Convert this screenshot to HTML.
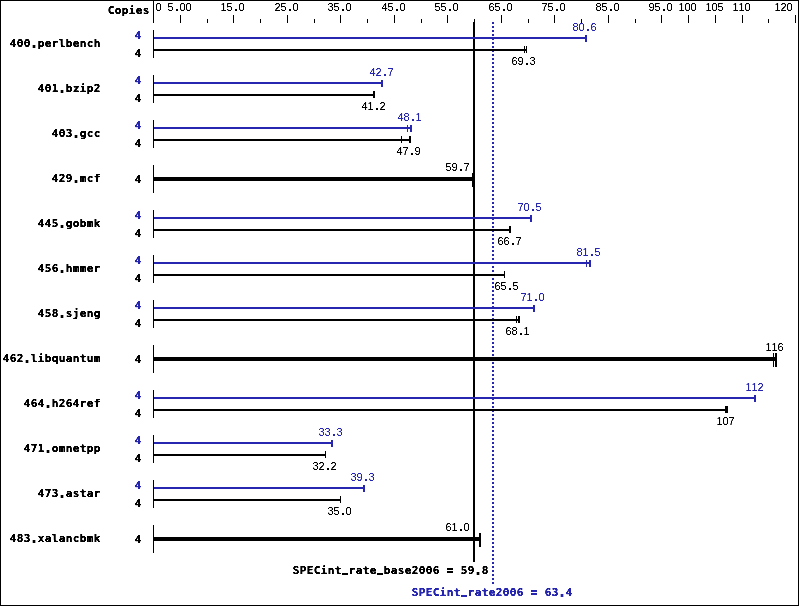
<!DOCTYPE html>
<html lang="en">
<head>
<meta charset="utf-8">
<title>SPECint_rate2006 result graph</title>
<style>
html,body{margin:0;padding:0;background:#fff;}
svg{display:block;}
rect,line{shape-rendering:crispEdges;}
text{fill:#000;stroke:#000;stroke-width:0;white-space:pre;}
text.s{font-family:"Liberation Sans","DejaVu Sans",sans-serif;font-size:11px;}
text.u{fill:#2626b0;stroke:#2626b0;}
tspan.d{font-size:21px;}
text.b.us{font-size:9.5px;}
tspan.bd{font-size:15px;}
text.b{font-family:"DejaVu Sans Mono","Liberation Mono",monospace;font-weight:bold;font-size:11px;stroke-width:0.08px;}
</style>
</head>
<body>
<svg width="799" height="606" viewBox="0 0 799 606">
<rect x="0" y="0" width="799" height="606" fill="#ffffff"/>
<defs>
<filter id="crisp" filterUnits="userSpaceOnUse" x="0" y="0" width="799" height="606" color-interpolation-filters="sRGB">
<feComponentTransfer><feFuncA type="linear" slope="2.5" intercept="-0.4"/></feComponentTransfer>
</filter>
<filter id="crisps" filterUnits="userSpaceOnUse" x="0" y="0" width="799" height="606" color-interpolation-filters="sRGB">
<feComponentTransfer><feFuncA type="linear" slope="2.2" intercept="-0.45"/></feComponentTransfer>
</filter>
</defs>
<rect x="473" y="22" width="2" height="540" fill="#000000"/>
<line x1="493" y1="22" x2="493" y2="584" stroke="#2626b0" stroke-width="2" stroke-dasharray="2 2"/>
<rect x="0" y="0" width="799" height="1" fill="#000000"/>
<rect x="0" y="605" width="799" height="1" fill="#000000"/>
<rect x="0" y="0" width="1" height="606" fill="#000000"/>
<rect x="798" y="0" width="1" height="606" fill="#000000"/>
<rect x="153" y="0" width="1" height="23" fill="#000000"/>
<rect x="180" y="15" width="1" height="8" fill="#000000"/>
<rect x="233" y="15" width="1" height="8" fill="#000000"/>
<rect x="287" y="15" width="1" height="8" fill="#000000"/>
<rect x="340" y="15" width="1" height="8" fill="#000000"/>
<rect x="394" y="15" width="1" height="8" fill="#000000"/>
<rect x="447" y="15" width="1" height="8" fill="#000000"/>
<rect x="501" y="15" width="1" height="8" fill="#000000"/>
<rect x="554" y="15" width="1" height="8" fill="#000000"/>
<rect x="608" y="15" width="1" height="8" fill="#000000"/>
<rect x="661" y="15" width="1" height="8" fill="#000000"/>
<rect x="688" y="15" width="1" height="8" fill="#000000"/>
<rect x="715" y="15" width="1" height="8" fill="#000000"/>
<rect x="742" y="15" width="1" height="8" fill="#000000"/>
<rect x="795" y="15" width="1" height="8" fill="#000000"/>
<rect x="207" y="19" width="1" height="4" fill="#000000"/>
<rect x="260" y="19" width="1" height="4" fill="#000000"/>
<rect x="314" y="19" width="1" height="4" fill="#000000"/>
<rect x="367" y="19" width="1" height="4" fill="#000000"/>
<rect x="421" y="19" width="1" height="4" fill="#000000"/>
<rect x="474" y="19" width="1" height="4" fill="#000000"/>
<rect x="528" y="19" width="1" height="4" fill="#000000"/>
<rect x="581" y="19" width="1" height="4" fill="#000000"/>
<rect x="635" y="19" width="1" height="4" fill="#000000"/>
<rect x="768" y="19" width="1" height="4" fill="#000000"/>
<rect x="153" y="30" width="1" height="28" fill="#000000"/>
<rect x="154" y="37" width="433" height="2" fill="#2626b0"/>
<rect x="585" y="35" width="1" height="7" fill="#2626b0"/>
<rect x="586" y="35" width="1" height="7" fill="#2626b0"/>
<rect x="154" y="49" width="373" height="2" fill="#000000"/>
<rect x="524" y="46" width="1" height="7" fill="#000000"/>
<rect x="526" y="46" width="1" height="7" fill="#000000"/>
<rect x="153" y="75" width="1" height="28" fill="#000000"/>
<rect x="154" y="82" width="229" height="2" fill="#2626b0"/>
<rect x="381" y="80" width="1" height="7" fill="#2626b0"/>
<rect x="382" y="80" width="1" height="7" fill="#2626b0"/>
<rect x="154" y="94" width="221" height="2" fill="#000000"/>
<rect x="373" y="91" width="1" height="7" fill="#000000"/>
<rect x="374" y="91" width="1" height="7" fill="#000000"/>
<rect x="153" y="120" width="1" height="28" fill="#000000"/>
<rect x="154" y="127" width="258" height="2" fill="#2626b0"/>
<rect x="407" y="125" width="1" height="7" fill="#2626b0"/>
<rect x="410" y="125" width="1" height="7" fill="#2626b0"/>
<rect x="411" y="125" width="1" height="7" fill="#2626b0"/>
<rect x="154" y="139" width="257" height="2" fill="#000000"/>
<rect x="401" y="136" width="1" height="7" fill="#000000"/>
<rect x="409" y="136" width="1" height="7" fill="#000000"/>
<rect x="410" y="136" width="1" height="7" fill="#000000"/>
<rect x="153" y="165" width="1" height="28" fill="#000000"/>
<rect x="154" y="177" width="321" height="4" fill="#000000"/>
<rect x="472" y="173" width="1" height="14" fill="#000000"/>
<rect x="473" y="173" width="1" height="14" fill="#000000"/>
<rect x="474" y="173" width="1" height="14" fill="#000000"/>
<rect x="153" y="210" width="1" height="28" fill="#000000"/>
<rect x="154" y="217" width="378" height="2" fill="#2626b0"/>
<rect x="530" y="215" width="1" height="7" fill="#2626b0"/>
<rect x="531" y="215" width="1" height="7" fill="#2626b0"/>
<rect x="154" y="229" width="357" height="2" fill="#000000"/>
<rect x="509" y="226" width="1" height="7" fill="#000000"/>
<rect x="510" y="226" width="1" height="7" fill="#000000"/>
<rect x="153" y="255" width="1" height="28" fill="#000000"/>
<rect x="154" y="262" width="437" height="2" fill="#2626b0"/>
<rect x="586" y="260" width="1" height="7" fill="#2626b0"/>
<rect x="589" y="260" width="1" height="7" fill="#2626b0"/>
<rect x="590" y="260" width="1" height="7" fill="#2626b0"/>
<rect x="154" y="274" width="351" height="2" fill="#000000"/>
<rect x="504" y="271" width="1" height="7" fill="#000000"/>
<rect x="153" y="300" width="1" height="28" fill="#000000"/>
<rect x="154" y="307" width="381" height="2" fill="#2626b0"/>
<rect x="533" y="305" width="1" height="7" fill="#2626b0"/>
<rect x="534" y="305" width="1" height="7" fill="#2626b0"/>
<rect x="154" y="319" width="366" height="2" fill="#000000"/>
<rect x="516" y="316" width="1" height="7" fill="#000000"/>
<rect x="518" y="316" width="1" height="7" fill="#000000"/>
<rect x="519" y="316" width="1" height="7" fill="#000000"/>
<rect x="153" y="345" width="1" height="28" fill="#000000"/>
<rect x="154" y="357" width="623" height="4" fill="#000000"/>
<rect x="773" y="353" width="1" height="14" fill="#000000"/>
<rect x="775" y="353" width="1" height="14" fill="#000000"/>
<rect x="776" y="353" width="1" height="14" fill="#000000"/>
<rect x="153" y="390" width="1" height="28" fill="#000000"/>
<rect x="154" y="397" width="602" height="2" fill="#2626b0"/>
<rect x="754" y="395" width="1" height="7" fill="#2626b0"/>
<rect x="755" y="395" width="1" height="7" fill="#2626b0"/>
<rect x="154" y="409" width="574" height="2" fill="#000000"/>
<rect x="725" y="406" width="1" height="7" fill="#000000"/>
<rect x="726" y="406" width="1" height="7" fill="#000000"/>
<rect x="727" y="406" width="1" height="7" fill="#000000"/>
<rect x="153" y="435" width="1" height="28" fill="#000000"/>
<rect x="154" y="442" width="179" height="2" fill="#2626b0"/>
<rect x="331" y="440" width="1" height="7" fill="#2626b0"/>
<rect x="332" y="440" width="1" height="7" fill="#2626b0"/>
<rect x="154" y="454" width="172" height="2" fill="#000000"/>
<rect x="325" y="451" width="1" height="7" fill="#000000"/>
<rect x="153" y="480" width="1" height="28" fill="#000000"/>
<rect x="154" y="487" width="211" height="2" fill="#2626b0"/>
<rect x="363" y="485" width="1" height="7" fill="#2626b0"/>
<rect x="364" y="485" width="1" height="7" fill="#2626b0"/>
<rect x="154" y="499" width="187" height="2" fill="#000000"/>
<rect x="340" y="496" width="1" height="7" fill="#000000"/>
<rect x="153" y="525" width="1" height="28" fill="#000000"/>
<rect x="154" y="537" width="327" height="4" fill="#000000"/>
<rect x="479" y="533" width="1" height="14" fill="#000000"/>
<rect x="480" y="533" width="1" height="14" fill="#000000"/>
<g filter="url(#crisp)">
<text class="b"><tspan x="107.7 114.7 121.7 128.7 135.7 142.7" y="14">Copies</tspan></text>
<text class="b"><tspan x="9.7 16.7 23.7" y="47">400</tspan><tspan class="bd" x="29.5" y="47.84">.</tspan><tspan x="37.7 44.7 51.7 58.7 65.7 72.7 79.7 86.7 93.7" y="47">perlbench</tspan></text>
<text class="b u"><tspan x="134.7" y="39">4</tspan></text>
<text class="b"><tspan x="134.7" y="57">4</tspan></text>
<text class="b"><tspan x="37.7 44.7 51.7" y="92">401</tspan><tspan class="bd" x="57.5" y="92.84">.</tspan><tspan x="65.7 72.7 79.7 86.7 93.7" y="92">bzip2</tspan></text>
<text class="b u"><tspan x="134.7" y="84">4</tspan></text>
<text class="b"><tspan x="134.7" y="102">4</tspan></text>
<text class="b"><tspan x="51.7 58.7 65.7" y="137">403</tspan><tspan class="bd" x="71.5" y="137.84">.</tspan><tspan x="79.7 86.7 93.7" y="137">gcc</tspan></text>
<text class="b u"><tspan x="134.7" y="129">4</tspan></text>
<text class="b"><tspan x="134.7" y="147">4</tspan></text>
<text class="b"><tspan x="51.7 58.7 65.7" y="182">429</tspan><tspan class="bd" x="71.5" y="182.84">.</tspan><tspan x="79.7 86.7 93.7" y="182">mcf</tspan></text>
<text class="b"><tspan x="134.7" y="183">4</tspan></text>
<text class="b"><tspan x="37.7 44.7 51.7" y="227">445</tspan><tspan class="bd" x="57.5" y="227.84">.</tspan><tspan x="65.7 72.7 79.7 86.7 93.7" y="227">gobmk</tspan></text>
<text class="b u"><tspan x="134.7" y="219">4</tspan></text>
<text class="b"><tspan x="134.7" y="237">4</tspan></text>
<text class="b"><tspan x="37.7 44.7 51.7" y="272">456</tspan><tspan class="bd" x="57.5" y="272.84">.</tspan><tspan x="65.7 72.7 79.7 86.7 93.7" y="272">hmmer</tspan></text>
<text class="b u"><tspan x="134.7" y="264">4</tspan></text>
<text class="b"><tspan x="134.7" y="282">4</tspan></text>
<text class="b"><tspan x="37.7 44.7 51.7" y="317">458</tspan><tspan class="bd" x="57.5" y="317.84">.</tspan><tspan x="65.7 72.7 79.7 86.7 93.7" y="317">sjeng</tspan></text>
<text class="b u"><tspan x="134.7" y="309">4</tspan></text>
<text class="b"><tspan x="134.7" y="327">4</tspan></text>
<text class="b"><tspan x="2.7 9.7 16.7" y="362">462</tspan><tspan class="bd" x="22.5" y="362.84">.</tspan><tspan x="30.7 37.7 44.7 51.7 58.7 65.7 72.7 79.7 86.7 93.7" y="362">libquantum</tspan></text>
<text class="b"><tspan x="134.7" y="363">4</tspan></text>
<text class="b"><tspan x="23.7 30.7 37.7" y="407">464</tspan><tspan class="bd" x="43.5" y="407.84">.</tspan><tspan x="51.7 58.7 65.7 72.7 79.7 86.7 93.7" y="407">h264ref</tspan></text>
<text class="b u"><tspan x="134.7" y="399">4</tspan></text>
<text class="b"><tspan x="134.7" y="417">4</tspan></text>
<text class="b"><tspan x="23.7 30.7 37.7" y="452">471</tspan><tspan class="bd" x="43.5" y="452.84">.</tspan><tspan x="51.7 58.7 65.7 72.7 79.7 86.7 93.7" y="452">omnetpp</tspan></text>
<text class="b u"><tspan x="134.7" y="444">4</tspan></text>
<text class="b"><tspan x="134.7" y="462">4</tspan></text>
<text class="b"><tspan x="37.7 44.7 51.7" y="497">473</tspan><tspan class="bd" x="57.5" y="497.84">.</tspan><tspan x="65.7 72.7 79.7 86.7 93.7" y="497">astar</tspan></text>
<text class="b u"><tspan x="134.7" y="489">4</tspan></text>
<text class="b"><tspan x="134.7" y="507">4</tspan></text>
<text class="b"><tspan x="9.7 16.7 23.7" y="542">483</tspan><tspan class="bd" x="29.5" y="542.84">.</tspan><tspan x="37.7 44.7 51.7 58.7 65.7 72.7 79.7 86.7 93.7" y="542">xalancbmk</tspan></text>
<text class="b"><tspan x="134.7" y="543">4</tspan></text>
<text class="b"><tspan x="292.7 299.7 306.7 313.7 320.7 327.7 334.7" y="574">SPECint</tspan></text>
<text class="b us" transform="translate(342.1 570.38) scale(1 2)" x="0" y="0">_</text>
<text class="b"><tspan x="348.7 355.7 362.7 369.7" y="574">rate</tspan></text>
<text class="b us" transform="translate(377.1 570.38) scale(1 2)" x="0" y="0">_</text>
<text class="b"><tspan x="383.7 390.7 397.7 404.7 411.7 418.7 425.7 432.7 439.7" y="574">base2006 </tspan></text>
<text class="b eq" transform="translate(446.69 574.51) scale(1 1.2)" x="0" y="0">=</text>
<text class="b"><tspan x="453.7 460.7 467.7" y="574"> 59</tspan><tspan class="bd" x="473.5" y="574.84">.</tspan><tspan x="481.7" y="574">8</tspan></text>
<text class="b u"><tspan x="411.7 418.7 425.7 432.7 439.7 446.7 453.7" y="596">SPECint</tspan></text>
<text class="b u us" transform="translate(461.1 592.38) scale(1 2)" x="0" y="0">_</text>
<text class="b u"><tspan x="467.7 474.7 481.7 488.7 495.7 502.7 509.7 516.7 523.7" y="596">rate2006 </tspan></text>
<text class="b u eq" transform="translate(530.69 596.51) scale(1 1.2)" x="0" y="0">=</text>
<text class="b u"><tspan x="537.7 544.7 551.7" y="596"> 63</tspan><tspan class="bd" x="557.5" y="596.84">.</tspan><tspan x="565.7" y="596">4</tspan></text>
</g>
<g filter="url(#crisps)">
<text class="s" y="11"><tspan x="167.4">5</tspan><tspan class="d" x="174.1">.</tspan><tspan x="179.4 185.4">00</tspan></text>
<text class="s" y="11"><tspan x="220.4 226.4">15</tspan><tspan class="d" x="233.1">.</tspan><tspan x="238.4">0</tspan></text>
<text class="s" y="11"><tspan x="274.4 280.4">25</tspan><tspan class="d" x="287.1">.</tspan><tspan x="292.4">0</tspan></text>
<text class="s" y="11"><tspan x="327.4 333.4">35</tspan><tspan class="d" x="340.1">.</tspan><tspan x="345.4">0</tspan></text>
<text class="s" y="11"><tspan x="381.4 387.4">45</tspan><tspan class="d" x="394.1">.</tspan><tspan x="399.4">0</tspan></text>
<text class="s" y="11"><tspan x="434.4 440.4">55</tspan><tspan class="d" x="447.1">.</tspan><tspan x="452.4">0</tspan></text>
<text class="s" y="11"><tspan x="488.4 494.4">65</tspan><tspan class="d" x="501.1">.</tspan><tspan x="506.4">0</tspan></text>
<text class="s" y="11"><tspan x="541.4 547.4">75</tspan><tspan class="d" x="554.1">.</tspan><tspan x="559.4">0</tspan></text>
<text class="s" y="11"><tspan x="595.4 601.4">85</tspan><tspan class="d" x="608.1">.</tspan><tspan x="613.4">0</tspan></text>
<text class="s" y="11"><tspan x="648.4 654.4">95</tspan><tspan class="d" x="661.1">.</tspan><tspan x="666.4">0</tspan></text>
<text class="s" y="11"><tspan x="678.4 684.4 690.4">100</tspan></text>
<text class="s" y="11"><tspan x="705.4 711.4 717.4">105</tspan></text>
<text class="s" y="11"><tspan x="732.4 738.4 744.4">110</tspan></text>
<text class="s" y="11"><tspan x="774.4 780.4 786.4">120</tspan></text>
<text class="s" y="11"><tspan x="155.4">0</tspan></text>
<text class="s u" y="31"><tspan x="572.4 578.4">80</tspan><tspan class="d" x="585.1">.</tspan><tspan x="590.4">6</tspan></text>
<text class="s" y="65"><tspan x="511.4 517.4">69</tspan><tspan class="d" x="524.1">.</tspan><tspan x="529.4">3</tspan></text>
<text class="s u" y="76"><tspan x="369.4 375.4">42</tspan><tspan class="d" x="382.1">.</tspan><tspan x="387.4">7</tspan></text>
<text class="s" y="110"><tspan x="361.4 367.4">41</tspan><tspan class="d" x="374.1">.</tspan><tspan x="379.4">2</tspan></text>
<text class="s u" y="121"><tspan x="397.4 403.4">48</tspan><tspan class="d" x="410.1">.</tspan><tspan x="415.4">1</tspan></text>
<text class="s" y="155"><tspan x="396.4 402.4">47</tspan><tspan class="d" x="409.1">.</tspan><tspan x="414.4">9</tspan></text>
<text class="s" y="171"><tspan x="445.4 451.4">59</tspan><tspan class="d" x="458.1">.</tspan><tspan x="463.4">7</tspan></text>
<text class="s u" y="211"><tspan x="517.4 523.4">70</tspan><tspan class="d" x="530.1">.</tspan><tspan x="535.4">5</tspan></text>
<text class="s" y="245"><tspan x="497.4 503.4">66</tspan><tspan class="d" x="510.1">.</tspan><tspan x="515.4">7</tspan></text>
<text class="s u" y="256"><tspan x="576.4 582.4">81</tspan><tspan class="d" x="589.1">.</tspan><tspan x="594.4">5</tspan></text>
<text class="s" y="290"><tspan x="494.4 500.4">65</tspan><tspan class="d" x="507.1">.</tspan><tspan x="512.4">5</tspan></text>
<text class="s u" y="301"><tspan x="520.4 526.4">71</tspan><tspan class="d" x="533.1">.</tspan><tspan x="538.4">0</tspan></text>
<text class="s" y="335"><tspan x="505.4 511.4">68</tspan><tspan class="d" x="518.1">.</tspan><tspan x="523.4">1</tspan></text>
<text class="s" y="351"><tspan x="765.4 771.4 777.4">116</tspan></text>
<text class="s u" y="391"><tspan x="745.4 751.4 757.4">112</tspan></text>
<text class="s" y="425"><tspan x="716.4 722.4 728.4">107</tspan></text>
<text class="s u" y="436"><tspan x="318.4 324.4">33</tspan><tspan class="d" x="331.1">.</tspan><tspan x="336.4">3</tspan></text>
<text class="s" y="470"><tspan x="312.4 318.4">32</tspan><tspan class="d" x="325.1">.</tspan><tspan x="330.4">2</tspan></text>
<text class="s u" y="481"><tspan x="350.4 356.4">39</tspan><tspan class="d" x="363.1">.</tspan><tspan x="368.4">3</tspan></text>
<text class="s" y="515"><tspan x="327.4 333.4">35</tspan><tspan class="d" x="340.1">.</tspan><tspan x="345.4">0</tspan></text>
<text class="s" y="531"><tspan x="445.4 451.4">61</tspan><tspan class="d" x="458.1">.</tspan><tspan x="463.4">0</tspan></text>
</g>
</svg>
</body>
</html>
